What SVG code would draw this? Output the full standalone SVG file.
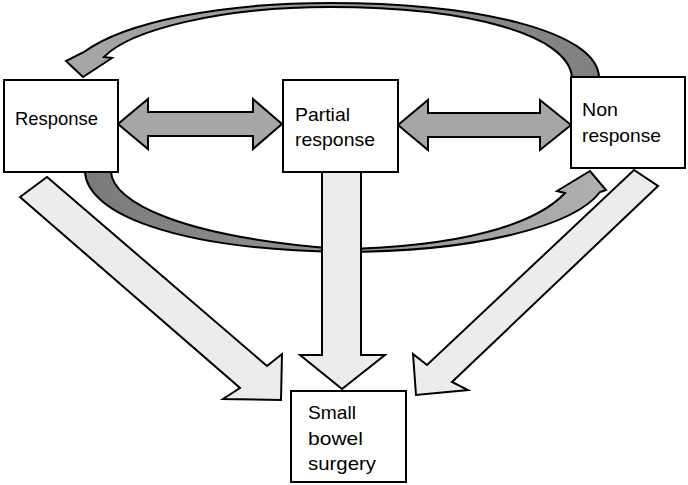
<svg xmlns="http://www.w3.org/2000/svg" width="688" height="485" viewBox="0 0 688 485">
<style>
.box{fill:#fff;stroke:#000;stroke-width:2}
.lbl{font-family:"Liberation Sans",Arial,sans-serif;font-size:19px;fill:#000}
.dbl{fill:#a6a6a6;stroke:#000;stroke-width:2;stroke-linejoin:miter}
.lt{fill:#ececec;stroke:#000;stroke-width:2;stroke-linejoin:miter}
.arc{stroke:#000;stroke-width:2;stroke-linejoin:miter}
</style>
<defs>
<linearGradient id="gTop" x1="600" y1="0" x2="60" y2="0" gradientUnits="userSpaceOnUse">
<stop offset="0" stop-color="#808080"/><stop offset="1" stop-color="#a8a8a8"/>
</linearGradient>
<linearGradient id="gBot" x1="85" y1="0" x2="606" y2="0" gradientUnits="userSpaceOnUse">
<stop offset="0" stop-color="#7a7a7a"/><stop offset="1" stop-color="#b0b0b0"/>
</linearGradient>
</defs>
<g id="connectors">
<path class="arc" fill="url(#gTop)" d="M599 77 C597 32 480 3 330 3 C220 3 125 22 84 52 L66 61 L83 77 L112 58 L104 57 C130 30 220 7 330 7 C470 7 568 35 572 77 Z"/>
<path class="arc" fill="url(#gBot)" d="M85 172 C87 212 170 249 340 252 C480 252 575 225 600 192 L606 190 L590 171 L557 191 L565 193 C535 225 460 247 340 249 C180 237 113 202 111 172 Z"/>
<polygon class="dbl" points="118,124 148,99 148,112 253,112 253,99 282,124 253,149 253,136 148,136 148,149"/>
<polygon class="dbl" points="398,125 428,100 428,113 540,113 540,100 571,125 540,150 540,137 428,137 428,150"/>
<polygon class="lt" points="47,177 267,366 282,354 281,400 223,399 240,388 20,197"/>
<polygon class="lt" points="322,172 361,172 361,355 385,355 342,389 300,355 322,355"/>
<polygon class="lt" points="658,186 452,382 468,390 416,395 413,354 427,365 634,170"/>
</g>
<g id="response">
<rect class="box" x="4" y="80" width="114" height="92"/>
<text class="lbl" x="15" y="125" textLength="83" lengthAdjust="spacingAndGlyphs">Response</text>
</g>
<g id="partial">
<rect class="box" x="283" y="80" width="115" height="92"/>
<text class="lbl" x="295" y="121" textLength="55" lengthAdjust="spacingAndGlyphs">Partial</text>
<text class="lbl" x="295" y="146" textLength="80" lengthAdjust="spacingAndGlyphs">response</text>
</g>
<g id="nonresponse">
<rect class="box" x="571" y="77" width="114" height="91"/>
<text class="lbl" x="582" y="116" textLength="36" lengthAdjust="spacingAndGlyphs">Non</text>
<text class="lbl" x="582" y="142" textLength="79" lengthAdjust="spacingAndGlyphs">response</text>
</g>
<g id="surgery">
<rect class="box" x="291" y="391" width="115" height="91"/>
<text class="lbl" x="308" y="419" textLength="48" lengthAdjust="spacingAndGlyphs">Small</text>
<text class="lbl" x="308" y="445" textLength="55" lengthAdjust="spacingAndGlyphs">bowel</text>
<text class="lbl" x="308" y="470" textLength="68" lengthAdjust="spacingAndGlyphs">surgery</text>
</g>
</svg>
